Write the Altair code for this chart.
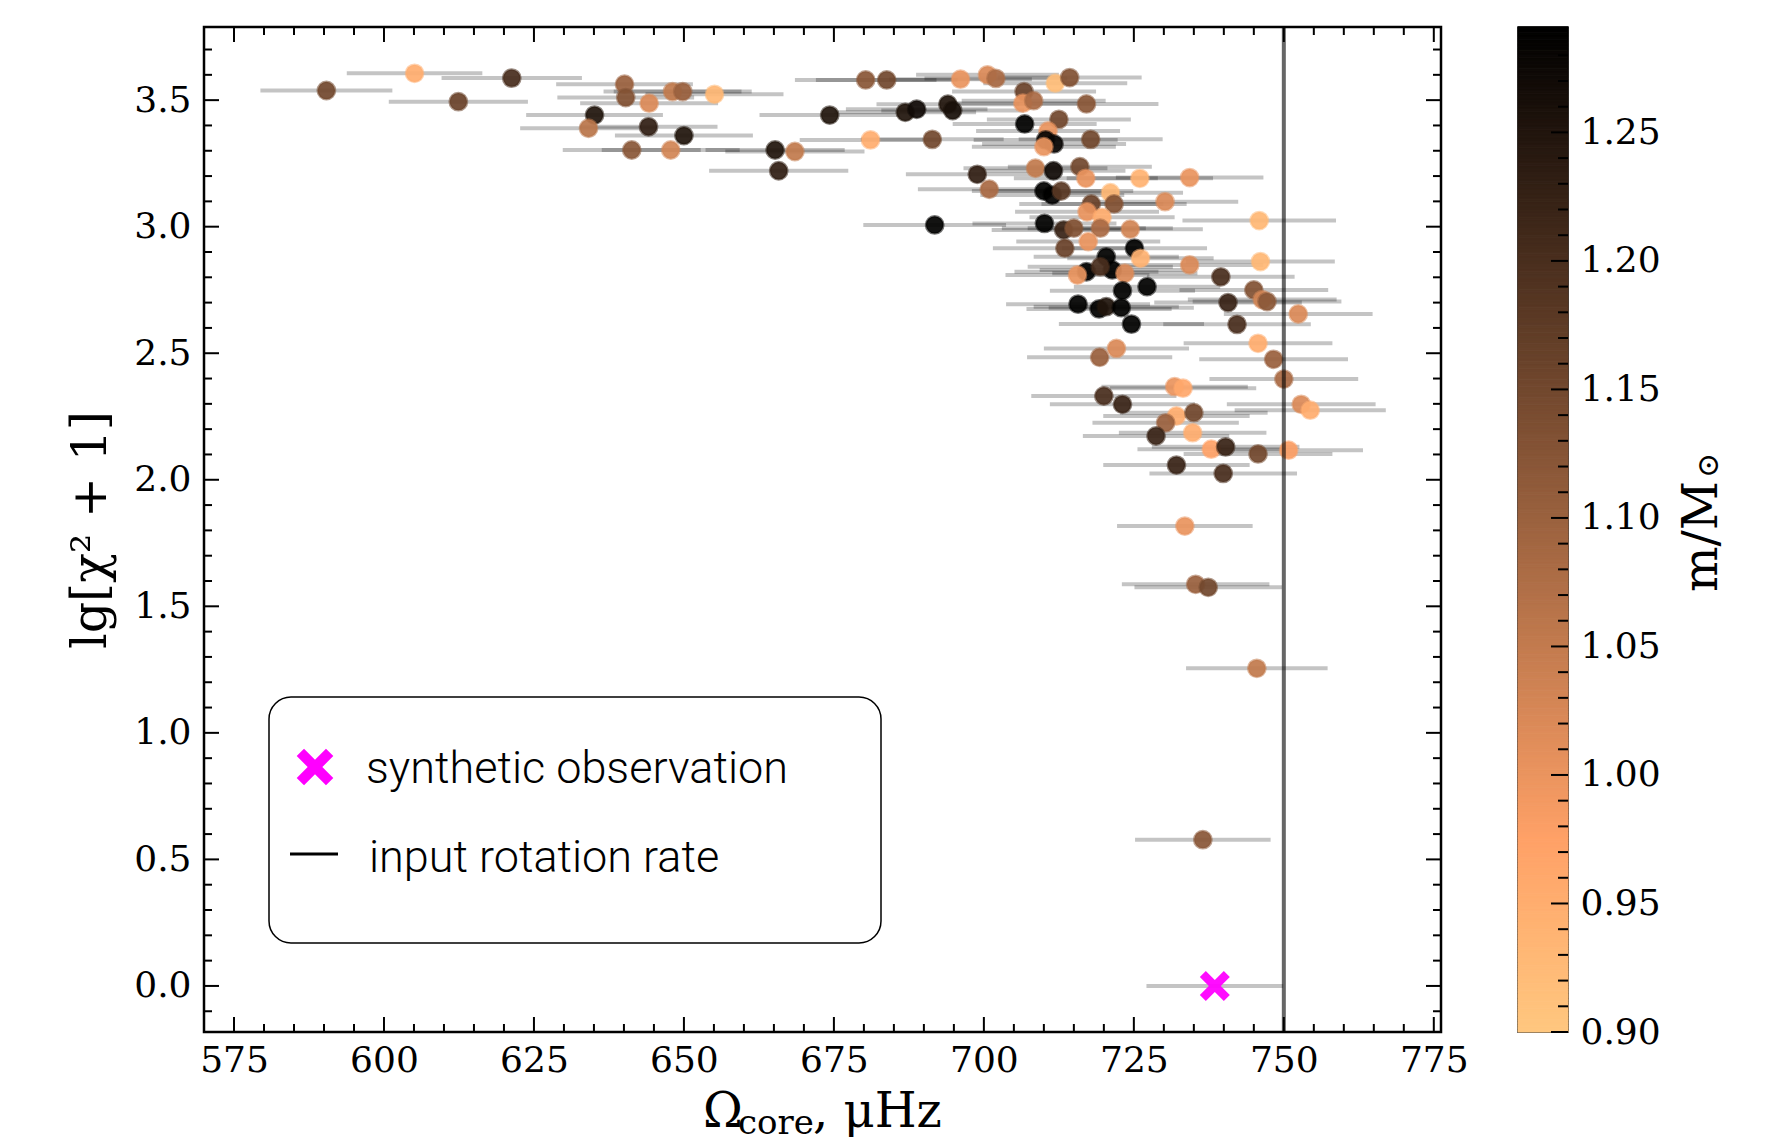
import altair as alt
import pandas as pd

# ---------------- data ----------------
omega = [590.4, 605.1, 621.3, 612.4, 640.1, 640.3, 644.2, 648.1, 649.8, 655.1, 635.1, 634.1, 644.1, 650.0, 641.3, 647.8, 665.2, 668.5, 665.8,
         680.3, 683.8, 696.1, 700.6, 702.0, 711.9, 714.3, 706.7, 706.5, 708.3, 717.1, 674.3, 686.9, 688.8, 694.0, 694.8, 706.8, 712.5, 681.1, 691.4,
         710.7, 710.3, 711.7, 710.0, 717.8, 698.9, 700.9, 708.6, 711.6, 716.0, 717.0, 726.0, 734.3, 710.0, 711.4, 712.9, 721.1, 717.9, 721.7, 717.2,
         719.7, 730.2, 691.8, 710.1, 713.3, 715.0, 719.4, 724.4, 713.5, 717.4, 725.1, 720.4, 726.1, 734.3, 745.9,
         746.1, 717.1, 721.4, 715.6, 719.4, 723.5, 739.5, 723.1, 727.2, 745.0, 746.4, 747.2, 740.7, 715.7, 719.2, 720.4, 722.9, 724.6, 742.2, 752.4,
         745.7, 722.1, 719.3, 748.3, 750.0, 731.8, 733.2,
         720.0, 723.1, 752.9, 754.4, 732.1, 735.0, 730.3, 734.8, 728.7, 737.9, 740.3, 745.7, 750.8, 732.1, 739.9, 733.5, 735.3, 737.4, 745.5, 736.5]

lgchi = [3.538, 3.606, 3.587, 3.494, 3.563, 3.510, 3.488, 3.534, 3.534, 3.523, 3.441, 3.389, 3.395, 3.360, 3.303, 3.303, 3.303, 3.297, 3.221,
         3.580, 3.580, 3.583, 3.600, 3.586, 3.567, 3.589, 3.534, 3.488, 3.498, 3.485, 3.441, 3.452, 3.464, 3.484, 3.459, 3.406, 3.424, 3.343, 3.345,
         3.378, 3.343, 3.327, 3.316, 3.345, 3.207, 3.148, 3.231, 3.221, 3.237, 3.191, 3.191, 3.194, 3.141, 3.125, 3.141, 3.134, 3.090, 3.090, 3.059,
         3.037, 3.099, 3.007, 3.013, 2.987, 2.994, 2.994, 2.990, 2.915, 2.941, 2.915, 2.881, 2.875, 2.849, 3.024,
         2.862, 2.822, 2.829, 2.809, 2.842, 2.816, 2.802, 2.747, 2.763, 2.750, 2.712, 2.704, 2.700, 2.694, 2.675, 2.684, 2.680, 2.615, 2.614, 2.655,
         2.539, 2.519, 2.484, 2.476, 2.398, 2.368, 2.362,
         2.331, 2.298, 2.298, 2.275, 2.252, 2.265, 2.225, 2.186, 2.173, 2.121, 2.130, 2.102, 2.117, 2.058, 2.025, 1.817, 1.587, 1.575, 1.255, 0.578]

err = [11.0, 11.3, 11.7, 11.6, 11.4, 11.4, 11.5, 11.5, 11.5, 11.5, 11.4, 11.4, 11.5, 11.5, 11.5, 11.5, 11.6, 11.6, 11.6,
       11.8, 11.8, 11.9, 11.9, 11.9, 12.0, 12.0, 12.0, 12.0, 12.0, 12.0, 11.7, 11.8, 11.8, 11.9, 11.9, 12.0, 12.0, 11.8, 11.9,
       12.0, 12.0, 12.0, 12.0, 12.0, 11.9, 11.9, 12.0, 12.0, 12.0, 12.0, 12.2, 12.3, 12.0, 12.0, 12.0, 12.1, 12.0, 12.1, 12.0,
       12.1, 12.2, 11.9, 12.0, 12.0, 12.0, 12.1, 12.1, 12.0, 12.0, 12.1, 12.1, 12.2, 12.3, 12.8,
       12.4, 12.0, 12.1, 12.0, 12.1, 12.1, 12.3, 12.1, 12.2, 12.4, 12.4, 12.4, 12.3, 12.0, 12.1, 12.1, 12.1, 12.1, 12.3, 12.4,
       12.4, 12.1, 12.1, 12.4, 12.4, 12.2, 12.2,
       12.1, 12.1, 12.4, 12.6, 12.2, 12.3, 12.2, 12.3, 12.2, 12.3, 12.3, 12.4, 12.4, 12.2, 12.3, 11.3, 12.3, 12.3, 11.8, 11.3]

mass = [1.15, 0.95, 1.20, 1.16, 1.10, 1.13, 1.02, 1.05, 1.10, 0.93, 1.25, 1.06, 1.23, 1.25, 1.12, 1.03, 1.25, 1.05, 1.23,
        1.12, 1.15, 1.00, 1.02, 1.08, 0.92, 1.13, 1.16, 1.00, 1.08, 1.12, 1.25, 1.25, 1.27, 1.25, 1.26, 1.29, 1.15, 0.95, 1.15,
        1.00, 1.28, 1.28, 1.00, 1.15, 1.23, 1.08, 1.05, 1.27, 1.15, 1.00, 0.94, 1.00, 1.29, 1.29, 1.18, 0.93, 1.16, 1.13, 1.00,
        0.95, 1.02, 1.29, 1.29, 1.22, 1.13, 1.08, 1.03, 1.16, 1.00, 1.29, 1.29, 0.94, 1.02, 0.93,
        0.93, 1.29, 1.29, 1.00, 1.20, 1.02, 1.20, 1.29, 1.29, 1.13, 1.03, 1.12, 1.22, 1.29, 1.29, 1.25, 1.29, 1.29, 1.20, 1.02,
        0.95, 1.02, 1.10, 1.10, 1.08, 1.00, 0.96,
        1.20, 1.22, 1.02, 0.95, 0.95, 1.15, 1.10, 0.95, 1.22, 0.97, 1.22, 1.15, 0.98, 1.22, 1.20, 1.00, 1.10, 1.15, 1.05, 1.12]

obs_omega = [738.5]
obs_lg = [0.0]
obs_err = [11.4]
input_rate = [750.0]

x_major = [575, 600, 625, 650, 675, 700, 725, 750, 775]
x_minor = [v for v in range(570, 777, 5) if v % 25 != 0]
y_major = [0.0, 0.5, 1.0, 1.5, 2.0, 2.5, 3.0, 3.5]
y_minor = [round(-0.1 + 0.1 * i, 1) for i in range(39) if round((-0.1 + 0.1 * i) * 10) % 5 != 0]
cb_major = [0.90, 0.95, 1.00, 1.05, 1.10, 1.15, 1.20, 1.25]
cb_minor = [round(0.9 + 0.01 * i, 2) for i in range(1, 40) if i % 5 != 0]
cb_levels = [round(0.9 + 0.001 * i, 3) for i in range(391)]

legend_labels = ["synthetic observation", "input rotation rate"]

# ---------------- frames ----------------
pts = pd.DataFrame({"omega": omega, "lg": lgchi, "m": mass,
                    "lo": [o - e for o, e in zip(omega, err)],
                    "hi": [o + e for o, e in zip(omega, err)]})
obs = pd.DataFrame({"omega": obs_omega, "lg": obs_lg,
                    "lo": [obs_omega[0] - obs_err[0]], "hi": [obs_omega[0] + obs_err[0]]})
vline = pd.DataFrame({"omega": input_rate})
xmaj = pd.DataFrame({"omega": x_major})
xmin = pd.DataFrame({"omega": x_minor})
ymaj = pd.DataFrame({"lg": y_major})
ymin = pd.DataFrame({"lg": y_minor})
cbl = pd.DataFrame({"m": cb_levels, "m2": [v + 0.001 for v in cb_levels]})
cbmaj = pd.DataFrame({"m": cb_major})
cbmin = pd.DataFrame({"m": cb_minor})

W, H = 1237, 1005
CBW = 50
SERIF = "DejaVu Serif"
LBL = 36

xscale = alt.Scale(domain=[570, 776.2], nice=False, zero=False)
yscale = alt.Scale(domain=[-0.182, 3.789], nice=False, zero=False)
cscale = alt.Scale(domain=[0.9, 0.9745, 1.291], range=["#ffc77f", "#ffa167", "#000000"], interpolate="rgb")
mscale = alt.Scale(domain=[0.9, 1.291], nice=False, zero=False)

xaxis = alt.Axis(values=x_major, format="d", labelFont=SERIF, labelFontSize=LBL, labelColor="black",
                 labelPadding=11, ticks=False, tickSize=0, domain=False, grid=False, title=None)
yaxis = alt.Axis(values=y_major, format=".1f", labelFont=SERIF, labelFontSize=LBL, labelColor="black",
                 labelPadding=13, ticks=False, tickSize=0, domain=False, grid=False,
                 title="lg[χ² + 1]", titleFont=SERIF, titleFontSize=49, titleFontWeight="normal",
                 titleColor="black", titlePadding=18)
cbaxis = alt.Axis(values=cb_major, format=".2f", orient="right", labelFont=SERIF, labelFontSize=LBL,
                  labelColor="black", labelPadding=12, ticks=False, tickSize=0, domain=False, grid=False, title=None)


def X(f):
    return alt.X(f, type="quantitative", scale=xscale, axis=xaxis)


def Y(f):
    return alt.Y(f, type="quantitative", scale=yscale, axis=yaxis)


def MY(f):
    return alt.Y(f, type="quantitative", scale=mscale, axis=cbaxis)


XPATH = "M-1,-0.6L-0.6,-1L0,-0.4L0.6,-1L1,-0.6L0.4,0L1,0.6L0.6,1L0,0.4L-0.6,1L-1,0.6L-0.4,0Z"

ebars = alt.Chart(pts).mark_rule(strokeWidth=4, color="black", opacity=0.23).encode(
    x=X("lo"), x2="hi", y=Y("lg"))
obs_bar = alt.Chart(obs).mark_rule(strokeWidth=4, color="black", opacity=0.23).encode(
    x=X("lo"), x2="hi", y=Y("lg"))
dots = alt.Chart(pts).mark_circle(size=300, fillOpacity=0.93, strokeOpacity=0.55, strokeWidth=2.5).encode(
    x=X("omega"), y=Y("lg"),
    color=alt.Color("m:Q", scale=cscale, legend=None),
    stroke=alt.Stroke("m:Q", scale=cscale, legend=None))
vrule = alt.Chart(vline).mark_rule(color="black", opacity=0.6, strokeWidth=4).encode(x=X("omega"))
obs_x = alt.Chart(obs).mark_point(shape=XPATH, filled=True, size=900, color="#ff00ff", opacity=0.95).encode(
    x=X("omega"), y=Y("lg"))

MAJ, MIN = 15, 8
tick_layers = [
    alt.Chart(xmaj).mark_rule(color="black", strokeWidth=2).encode(x=X("omega"), y=alt.value(H), y2=alt.value(H - MAJ)),
    alt.Chart(xmin).mark_rule(color="black", strokeWidth=2).encode(x=X("omega"), y=alt.value(H), y2=alt.value(H - MIN)),
    alt.Chart(xmaj).mark_rule(color="black", strokeWidth=2).encode(x=X("omega"), y=alt.value(0), y2=alt.value(MAJ)),
    alt.Chart(xmin).mark_rule(color="black", strokeWidth=2).encode(x=X("omega"), y=alt.value(0), y2=alt.value(MIN)),
    alt.Chart(ymaj).mark_rule(color="black", strokeWidth=2).encode(y=Y("lg"), x=alt.value(0), x2=alt.value(MAJ)),
    alt.Chart(ymin).mark_rule(color="black", strokeWidth=2).encode(y=Y("lg"), x=alt.value(0), x2=alt.value(MIN)),
    alt.Chart(ymaj).mark_rule(color="black", strokeWidth=2).encode(y=Y("lg"), x=alt.value(W), x2=alt.value(W - MAJ)),
    alt.Chart(ymin).mark_rule(color="black", strokeWidth=2).encode(y=Y("lg"), x=alt.value(W), x2=alt.value(W - MIN)),
]

# legend box (drawn inside the plot, like matplotlib's)
leg_box = alt.Chart(obs).mark_rect(cornerRadius=22, fill="white", stroke="black", strokeWidth=1.5).encode(
    x=alt.value(65), x2=alt.value(677), y=alt.value(670), y2=alt.value(916))
leg_x = alt.Chart(obs).mark_point(shape=XPATH, filled=True, size=1340, color="#ff00ff", opacity=1).encode(
    x=alt.value(111), y=alt.value(740))
leg_line = alt.Chart(obs).mark_rule(color="black", strokeWidth=3).encode(
    x=alt.value(86), x2=alt.value(134), y=alt.value(827))
leg_t1 = alt.Chart(obs).mark_text(text=legend_labels[0], align="left", baseline="alphabetic", font="Roboto",
                                  fontSize=45, fontWeight=300, color="black").encode(x=alt.value(162), y=alt.value(756))
leg_t2 = alt.Chart(obs).mark_text(text=legend_labels[1], align="left", baseline="alphabetic", font="Roboto",
                                  fontSize=45, fontWeight=300, color="black").encode(x=alt.value(165), y=alt.value(845))

# x-axis title with a subscript
xt1 = alt.Chart(obs).mark_text(text="Ω", align="left", baseline="alphabetic", font=SERIF, fontSize=48,
                               color="black").encode(x=alt.value(499), y=alt.value(1100))
xt2 = alt.Chart(obs).mark_text(text="core", align="left", baseline="alphabetic", font=SERIF, fontSize=34,
                               color="black").encode(x=alt.value(534), y=alt.value(1107))
xt3 = alt.Chart(obs).mark_text(text=", μHz", align="left", baseline="alphabetic", font=SERIF, fontSize=48,
                               color="black").encode(x=alt.value(609), y=alt.value(1100))

main = alt.layer(ebars, obs_bar, dots, vrule, obs_x, *tick_layers,
                 leg_box, leg_x, leg_line, leg_t1, leg_t2, xt1, xt2, xt3).properties(
    width=W, height=H, view=alt.ViewBackground(stroke="black", strokeWidth=2.5, fill="white"))

# ---------------- colorbar ----------------
cb_rect = alt.Chart(cbl).mark_rect(strokeWidth=1).encode(
    y=MY("m"), y2="m2", x=alt.value(0), x2=alt.value(CBW),
    color=alt.Color("m:Q", scale=cscale, legend=None),
    stroke=alt.Stroke("m:Q", scale=cscale, legend=None))
cb_ticks = [
    alt.Chart(cbmaj).mark_rule(color="black", strokeWidth=2).encode(y=MY("m"), x=alt.value(CBW), x2=alt.value(CBW - 17)),
    alt.Chart(cbmin).mark_rule(color="black", strokeWidth=2).encode(y=MY("m"), x=alt.value(CBW), x2=alt.value(CBW - 10)),
]
cb_t1 = alt.Chart(obs).mark_text(text="m/M", angle=270, align="left", baseline="alphabetic", font=SERIF,
                                 fontSize=48, color="black").encode(x=alt.value(199), y=alt.value(565))
cb_t2 = alt.Chart(obs).mark_text(text="⊙", angle=270, align="left", baseline="middle", font=SERIF,
                                 fontSize=30, color="black").encode(x=alt.value(191), y=alt.value(451))

cbar = alt.layer(cb_rect, *cb_ticks, cb_t1, cb_t2).properties(
    width=CBW, height=H, view=alt.ViewBackground(stroke="black", strokeWidth=1.5))

chart = alt.hconcat(main, cbar, spacing=46).properties(
    padding={"left": 57, "top": 15, "right": 5, "bottom": 5}
).configure(background="white")

chart.save("out.html", embed_options={"renderer": "svg", "actions": False})
